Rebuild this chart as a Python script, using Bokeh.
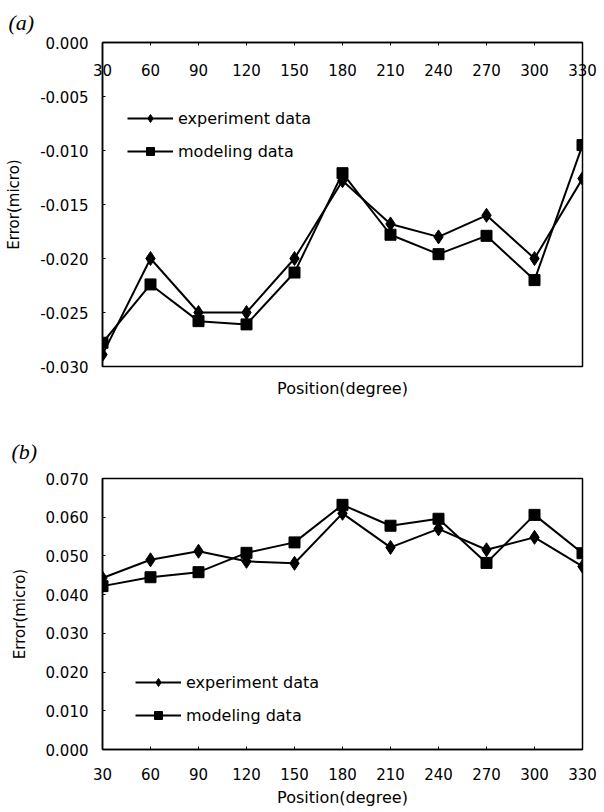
from bokeh.plotting import figure
from bokeh.models import (Range1d, LinearAxis, FixedTicker, NumeralTickFormatter,
                          Legend, LegendItem, Title)
from bokeh.layouts import column
from bokeh.embed import file_html
from bokeh.resources import INLINE

# ---------------- data ----------------
positions = [30, 60, 90, 120, 150, 180, 210, 240, 270, 300, 330]

a_experiment = [-0.0289, -0.0200, -0.0250, -0.0250, -0.0200, -0.0128,
                -0.0168, -0.0180, -0.0160, -0.0200, -0.0126]
a_modeling = [-0.0278, -0.0224, -0.0258, -0.0261, -0.0213, -0.0121,
              -0.0178, -0.0196, -0.0179, -0.0220, -0.0095]

b_experiment = [0.0443, 0.0490, 0.0512, 0.0486, 0.0481, 0.0610,
                0.0522, 0.0570, 0.0516, 0.0548, 0.0473]
b_modeling = [0.0422, 0.0445, 0.0458, 0.0508, 0.0535, 0.0632,
              0.0578, 0.0596, 0.0482, 0.0606, 0.0507]

a_yticks = [0.000, -0.005, -0.010, -0.015, -0.020, -0.025, -0.030]
b_yticks = [0.000, 0.010, 0.020, 0.030, 0.040, 0.050, 0.060, 0.070]

series_labels = ["experiment data", "modeling data"]
x_title = "Position(degree)"
y_title = "Error(micro)"

SANS = "DejaVu Sans"
SERIF = "Liberation Serif"
TICK_SIZE = "15px"


def style_common(p):
    p.grid.visible = False
    p.outline_line_color = "black"
    p.outline_line_width = 1.5
    p.background_fill_color = "white"
    p.border_fill_color = "white"


def draw_series(p, ys_exp, ys_mod):
    l1 = p.line(positions, ys_exp, line_color="black", line_width=2)
    s1 = p.scatter(positions, ys_exp, marker="diamond", size=14,
                   fill_color="black", line_color="black")
    l2 = p.line(positions, ys_mod, line_color="black", line_width=2)
    s2 = p.scatter(positions, ys_mod, marker="square", size=11,
                   fill_color="black", line_color="black")
    return [l1, s1], [l2, s2]


def style_xaxis(ax):
    ax.ticker = FixedTicker(ticks=positions)
    ax.major_label_text_font = SANS
    ax.major_label_text_font_size = TICK_SIZE
    ax.major_label_text_color = "black"
    ax.major_tick_in = 3
    ax.major_tick_out = 0
    ax.minor_tick_line_color = None
    ax.axis_line_color = "black"
    ax.axis_line_width = 1.5


def style_yaxis(ax, ticks):
    ax.ticker = FixedTicker(ticks=ticks)
    ax.formatter = NumeralTickFormatter(format="0.000")
    ax.major_label_text_font = SANS
    ax.major_label_text_font_size = TICK_SIZE
    ax.major_label_text_color = "black"
    ax.axis_line_color = "black"
    ax.axis_line_width = 1.5
    ax.major_tick_in = 3
    ax.major_tick_out = 0
    ax.minor_tick_line_color = None
    ax.major_label_standoff = 14
    ax.axis_label = y_title
    ax.axis_label_text_font = SANS
    ax.axis_label_text_font_size = "15px"
    ax.axis_label_text_font_style = "normal"
    ax.axis_label_text_color = "black"
    ax.axis_label_standoff = 14


def make_legend(p, r1, r2, loc):
    leg = Legend(items=[LegendItem(label=series_labels[0], renderers=r1),
                        LegendItem(label=series_labels[1], renderers=r2)],
                 location=loc)
    leg.background_fill_alpha = 0
    leg.border_line_color = None
    leg.label_text_font = SANS
    leg.label_text_font_size = "16px"
    leg.label_text_color = "black"
    leg.glyph_width = 46
    leg.glyph_height = 20
    leg.label_height = 20
    leg.label_standoff = 5
    leg.spacing = 13
    leg.padding = 0
    leg.margin = 0
    p.add_layout(leg, "center")


# ---------------- chart (a) ----------------
pa = figure(width=604, height=410, x_range=Range1d(30, 330),
            y_range=Range1d(-0.030, 0.0), output_backend="svg",
            toolbar_location=None, x_axis_location=None, y_axis_location=None,
            min_border_left=102, min_border_right=18, min_border_top=41,
            min_border_bottom=44)
style_common(pa)
pa.title = Title(text="(a)", align="left", offset=-94,
                 text_font=SERIF, text_font_style="italic",
                 text_font_size="22px", text_color="black", standoff=15)

ya = LinearAxis()
style_yaxis(ya, a_yticks)
pa.add_layout(ya, "left")

# x axis of chart (a) lies on the zero line (top of the frame),
# its labels hang just below that line
xa_top = LinearAxis()
style_xaxis(xa_top)
xa_top.major_label_standoff = -33
pa.add_layout(xa_top, "above")

xa_title = LinearAxis(ticker=FixedTicker(ticks=[]), axis_line_color=None,
                      major_tick_line_color=None, minor_tick_line_color=None,
                      major_label_text_font_size="0px")
xa_title.axis_label = x_title
xa_title.axis_label_text_font = SANS
xa_title.axis_label_text_font_size = "16px"
xa_title.axis_label_text_font_style = "normal"
xa_title.axis_label_text_color = "black"
xa_title.axis_label_standoff = 12
pa.add_layout(xa_title, "below")

ra1, ra2 = draw_series(pa, a_experiment, a_modeling)
make_legend(pa, ra1, ra2, (25, 205))

# ---------------- chart (b) ----------------
pb = figure(width=604, height=402, x_range=Range1d(30, 330),
            y_range=Range1d(0.0, 0.070), output_backend="svg",
            toolbar_location=None, x_axis_location=None, y_axis_location=None,
            min_border_left=101, min_border_right=22, min_border_top=68,
            min_border_bottom=63)
style_common(pb)
pb.title = Title(text="(b)", align="left", offset=-91,
                 text_font=SERIF, text_font_style="italic",
                 text_font_size="22px", text_color="black", standoff=29)

yb = LinearAxis()
style_yaxis(yb, b_yticks)
pb.add_layout(yb, "left")

xb = LinearAxis()
style_xaxis(xb)
xb.major_label_standoff = 18
xb.axis_label = x_title
xb.axis_label_text_font = SANS
xb.axis_label_text_font_size = "16px"
xb.axis_label_text_font_style = "normal"
xb.axis_label_text_color = "black"
xb.axis_label_standoff = 5
pb.add_layout(xb, "below")

rb1, rb2 = draw_series(pb, b_experiment, b_modeling)
make_legend(pb, rb1, rb2, (33, 24))

layout = column(pa, pb, spacing=0)
open("out.html", "w").write(file_html(layout, INLINE))
